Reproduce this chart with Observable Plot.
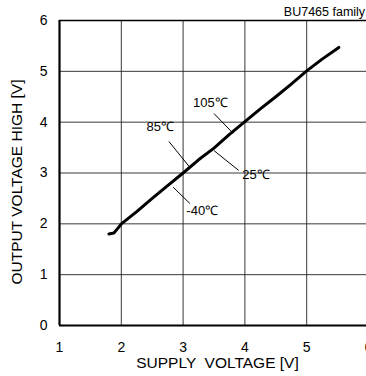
<!DOCTYPE html>
<html>
<head>
<meta charset="utf-8">
<script src="https://cdn.jsdelivr.net/npm/d3@7"></script>
<script src="https://cdn.jsdelivr.net/npm/@observablehq/plot@0.6"></script>
<style>
  html, body { margin: 0; padding: 0; background: #fff; overflow: hidden; }
  #chart svg { overflow: visible; }
</style>
</head>
<body>
<div id="chart"></div>
<script>
// Data
const supplyV = [1.80, 1.88, 1.95, 2.00, 2.25, 2.50, 2.75, 3.00, 3.25, 3.50, 3.75, 4.00, 4.25, 4.50, 4.75, 5.00, 5.25, 5.52];
const outputV = [1.80, 1.82, 1.92, 2.00, 2.24, 2.50, 2.75, 3.00, 3.26, 3.49, 3.76, 4.01, 4.26, 4.50, 4.75, 5.01, 5.24, 5.47];

const xTicks = [1, 2, 3, 4, 5, 6];
const yTicks = [0, 1, 2, 3, 4, 5, 6];
const xGrid = [2, 3, 4, 5];
const yGrid = [1, 2, 3, 4, 5];

const tempLabels = ["105℃", "85℃", "25℃", "-40℃"];
const labelX = [3.44, 2.63, 4.18, 3.31];
const labelY = [4.39, 3.90, 2.97, 2.25];
const leadX1 = [3.50, 2.77, 3.50, 2.84];
const leadY1 = [4.17, 3.62, 3.44, 2.72];
const leadX2 = [3.81, 3.11, 3.90, 3.11];
const leadY2 = [3.78, 3.11, 3.05, 2.40];

const familyLabel = "BU7465 family";
const xLabel = "SUPPLY  VOLTAGE [V]";
const yLabel = "OUTPUT VOLTAGE HIGH [V]";

const curve = supplyV.map((x, i) => ({x, y: outputV[i]}));
const leaders = tempLabels.map((t, i) => ({t, lx: labelX[i], ly: labelY[i], x1: leadX1[i], y1: leadY1[i], x2: leadX2[i], y2: leadY2[i]}));

const font = "'Liberation Sans', Arial, sans-serif";

const chart = Plot.plot({
  width: 366,
  height: 376,
  marginLeft: 58,
  marginTop: 20,
  marginBottom: 51,
  marginRight: 0,
  style: {fontFamily: font, fontSize: "14px", color: "#000", background: "#fff"},
  x: {domain: [1, 6], range: [59, 368]},
  y: {domain: [0, 6]},
  marks: [
    Plot.ruleX(xGrid, {y1: 0, y2: 6, stroke: "#222", strokeWidth: 0.9}),
    Plot.ruleY(yGrid, {x1: 1, x2: 6, stroke: "#222", strokeWidth: 0.9}),
    Plot.ruleY([6], {x1: 1, x2: 6, stroke: "#000", strokeWidth: 1.5}),
    Plot.ruleX([1], {y1: 0, y2: 6, stroke: "#000", strokeWidth: 2.2}),
    Plot.ruleY([0], {x1: 1, x2: 6, stroke: "#000", strokeWidth: 2.2}),
    Plot.axisX(xTicks, {tickSize: 0, tickPadding: 17, fontSize: 14, tickFormat: d3.format("d"), label: null}),
    Plot.axisY(yTicks, {tickSize: 0, tickPadding: 11, fontSize: 14, tickFormat: d3.format("d"), label: null}),
    Plot.line(curve, {x: "x", y: "y", stroke: "#000", strokeWidth: 3, strokeLinejoin: "round", strokeLinecap: "round"}),
    Plot.link(leaders, {x1: "x1", y1: "y1", x2: "x2", y2: "y2", stroke: "#000", strokeWidth: 1}),
    Plot.text(leaders, {x: "lx", y: "ly", text: "t", fontSize: 13, fill: "#000"}),
    Plot.text([familyLabel], {x: 4.63, y: 6.16, text: d => d, textAnchor: "start", fontSize: 12.5, fill: "#000"}),
    Plot.text([xLabel], {frameAnchor: "bottom", text: d => d, textAnchor: "middle", lineAnchor: "middle", dx: 5, dy: 38, fontSize: 15.5, fill: "#000"}),
    Plot.text([yLabel], {frameAnchor: "left", text: d => d, textAnchor: "middle", lineAnchor: "middle", rotate: -90, dx: -41, dy: 9, fontSize: 15.5, fill: "#000"})
  ]
});
document.getElementById("chart").append(chart);
</script>
</body>
</html>
